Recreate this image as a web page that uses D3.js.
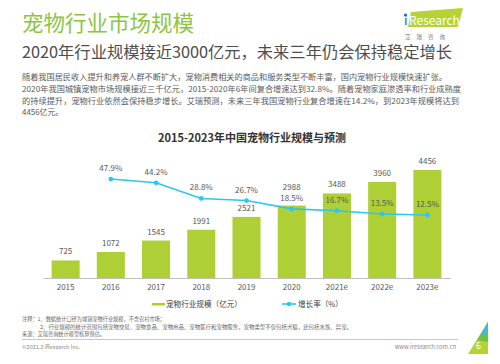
<!DOCTYPE html>
<html><head><meta charset="utf-8">
<script src="https://cdn.jsdelivr.net/npm/d3@7/dist/d3.min.js"></script>
<style>body{margin:0;background:#fff}svg{display:block}text{font-family:"Noto Sans CJK SC","Noto Sans",sans-serif}</style>
</head><body><svg id="c" width="500" height="364"></svg>
<script>
const categories = ["2015","2016","2017","2018","2019","2020","2021e","2022e","2023e"];
const scaleValues = [725,1072,1545,1991,2521,2988,3488,3960,4456];
const growthValues = [null,47.9,44.2,28.8,26.7,18.5,16.7,13.5,12.5];
const seriesNames = ["宠物行业规模（亿元）","增长率（%）"];
const paragraph = [
 "随着我国居民收入提升和养宠人群不断扩大，宠物消费相关的商品和服务类型不断丰富，国内宠物行业规模快速扩张。",
 "2020年我国城镇宠物市场规模接近三千亿元，2015-2020年6年间复合增速达到32.8%。随着宠物家庭渗透率和行业成熟度",
 "的持续提升，宠物行业依然会保持稳步增长。艾瑞预测，未来三年我国宠物行业复合增速在14.2%，到2023年规模将达到",
 "4456亿元。"
];
const notes = ["注释：1、数据统计口径为城镇宠物行业规模，不含农村市场；",
 "2、行业规模的统计范围包括宠物交易、宠物食品、宠物用品、宠物医疗和宠物服务，宠物类型不仅包括犬猫，还包括水族、异宠。",
 "来源：艾瑞咨询统计模型核算预估。"];

const svg = d3.select("#c");
const GREEN="#aecf35", BLUE="#2ec5f2", TXT="#595959";

// header
svg.append("text").attr("x",22).attr("y",31).attr("font-size",21.5).attr("fill","#8cc63f").text("宠物行业市场规模");
svg.append("text").attr("x",22).attr("y",58).attr("font-size",15.5).attr("fill","#4d4d4d")
  .attr("textLength",430).attr("lengthAdjust","spacingAndGlyphs").text("2020年行业规模接近3000亿元，未来三年仍会保持稳定增长");
const plw=[425,439,437,null];
paragraph.forEach((t,i)=>{
  const el=svg.append("text").attr("x",22).attr("y",80+i*11.8).attr("font-size",7.9).attr("fill",TXT).text(t);
  if(plw[i]) el.attr("textLength",plw[i]).attr("lengthAdjust","spacingAndGlyphs");
});
// logo
const lg=svg.append("g");
lg.append("path").attr("d","M411,12 L463,8 L458,27 L408,27 Z").attr("fill","#b5d334");
lg.append("circle").attr("cx",405.5).attr("cy",15).attr("r",1.6).attr("fill","#1c6fb8");
lg.append("text").attr("x",404).attr("y",25).attr("font-size",13).attr("fill","#2a62a6").attr("font-family","Open Sans, sans-serif").text("i");
lg.append("text").attr("x",409).attr("y",24.5).attr("font-size",12).attr("fill","#fff").attr("font-family","Open Sans, sans-serif").text("Research");
lg.append("text").attr("x",405).attr("y",39).attr("font-size",5.5).attr("fill","#777").attr("letter-spacing",6).text("艾瑞咨询");

// chart title
svg.append("text").attr("x",252).attr("y",141.5).attr("text-anchor","middle").attr("font-size",11).attr("font-weight","bold").attr("fill","#333").text("2015-2023年中国宠物行业规模与预测");

const x=d3.scaleBand().domain(categories).range([43,450]).paddingInner(0.38).paddingOuter(0.19);
const y=d3.scaleLinear().domain([0,5000]).range([278,156.8]);
const y2=d3.scaleLinear().domain([0,50]).range([227.7,176.9]);
const cx=d=>x(d)+x.bandwidth()/2;

svg.selectAll(".bar").data(categories).enter().append("rect")
  .attr("x",d=>x(d)).attr("width",x.bandwidth())
  .attr("y",(d,i)=>y(scaleValues[i])).attr("height",(d,i)=>y(0)-y(scaleValues[i])).attr("fill",GREEN);

// percent label positions (baseline)
const pctBase=(i)=>growthValues[i]==null?null:y2(growthValues[i])-8;
svg.selectAll(".bl").data(categories).enter().append("text")
  .attr("x",cx).attr("y",(d,i)=>{
     let b=y(scaleValues[i])-6;
     const p=pctBase(i);
     if(p!=null && Math.abs(b-p)<10.5) b=p-10.5;
     return b;})
  .attr("text-anchor","middle").attr("font-size",8).attr("fill",TXT).text((d,i)=>scaleValues[i]);

const xa=svg.append("g").attr("transform","translate(0,278)").call(d3.axisBottom(x).tickSize(0).tickPadding(6));
xa.select(".domain").attr("stroke","#bfbfbf").attr("stroke-width",1.2);
xa.selectAll("text").attr("font-size",8).attr("fill",TXT).attr("font-family","Open Sans, sans-serif");

const pts=categories.map((c,i)=>({c,v:growthValues[i]})).filter(d=>d.v!=null);
svg.append("path").datum(pts).attr("fill","none").attr("stroke",BLUE).attr("stroke-width",1.6)
  .attr("d",d3.line().x(d=>cx(d.c)).y(d=>y2(d.v)));
svg.selectAll(".pt").data(pts).enter().append("circle").attr("cx",d=>cx(d.c)).attr("cy",d=>y2(d.v)).attr("r",2.4).attr("fill",BLUE);
svg.selectAll(".pl").data(pts).enter().append("text").attr("x",d=>cx(d.c)).attr("y",d=>y2(d.v)-8)
  .attr("text-anchor","middle").attr("font-size",8).attr("fill",TXT).text(d=>d.v.toFixed(1)+"%");

// legend
svg.append("rect").attr("x",152).attr("y",303).attr("width",13).attr("height",2.5).attr("fill",GREEN);
svg.append("text").attr("x",166).attr("y",307).attr("font-size",7.6).attr("fill","#404040").text(seriesNames[0]);
svg.append("line").attr("x1",282).attr("x2",296).attr("y1",304).attr("y2",304).attr("stroke",BLUE).attr("stroke-width",1.6);
svg.append("circle").attr("cx",289).attr("cy",304).attr("r",2.2).attr("fill",BLUE);
svg.append("text").attr("x",298).attr("y",307).attr("font-size",7.6).attr("fill","#404040").text(seriesNames[1]);

// notes
svg.append("text").attr("x",22).attr("y",320.5).attr("font-size",5.2).attr("fill","#666").text(notes[0]);
svg.append("text").attr("x",40).attr("y",329).attr("font-size",5.2).attr("fill","#666").attr("textLength",312).attr("lengthAdjust","spacingAndGlyphs").text(notes[1]);
svg.append("text").attr("x",22).attr("y",335.8).attr("font-size",5.2).attr("fill","#666").text(notes[2]);
svg.append("line").attr("x1",22).attr("x2",458).attr("y1",339.5).attr("y2",339.5).attr("stroke","#c8c8c8").attr("stroke-width",1);
svg.append("text").attr("x",22).attr("y",349).attr("font-size",5.5).attr("fill","#888").text("©2021.3 iResearch Inc.");
svg.append("text").attr("x",456).attr("y",349).attr("text-anchor","end").attr("font-size",5.8).attr("fill","#888").text("www.iresearch.com.cn");

// page corner
svg.append("path").attr("d","M488,322 L488,354 L468,354 Z").attr("fill","#b5d334");
svg.append("path").attr("d","M488,322 L488,342 L477,340 Z").attr("fill","#5cbf4a").attr("opacity",0.85);
svg.append("path").attr("d","M488,322 L488,332 L480,336 Z").attr("fill","#3fb8e8");
svg.append("text").attr("x",478.5).attr("y",349).attr("text-anchor","middle").attr("font-size",9).attr("fill","#fff").text("6");
</script></body></html>
